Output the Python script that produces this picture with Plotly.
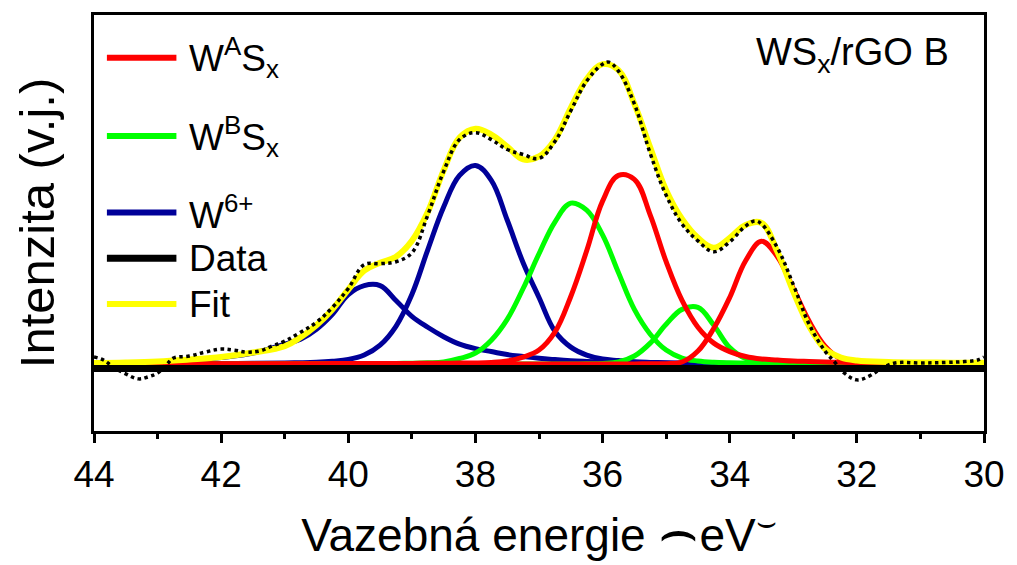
import plotly.graph_objects as go

# ---------------- data ----------------
# binding energy grid for fitted curves (eV)
e_grid = [44, 43.5, 43, 42.5, 42, 41.5, 41, 40.75, 40.5, 40.25, 40, 39.75, 39.5,
          39.25, 39, 38.75, 38.5, 38.25, 38, 37.75, 37.5, 37.25, 37, 36.75, 36.5,
          36.25, 36, 35.75, 35.5, 35.25, 35, 34.75, 34.5, 34.25, 34, 33.75, 33.5,
          33.25, 33, 32.75, 32.5, 32.25, 32, 31.5, 31, 30.5, 30]

# W^A S_x doublet (two peaks)
wa_peak1 = [0, 0, 0.1, 0.1, 0.2, 0.2, 0.3, 0.3, 0.3, 0.4, 0.4, 0.5, 0.5,
            0.6, 0.6, 0.7, 0.8, 0.9, 1, 1.5, 3, 7, 14, 32, 68,
            114, 164, 190, 186, 150, 103, 64, 37, 21, 12.5, 7.5, 5,
            4, 3, 2.5, 2, 1.7, 1.4, 1.1, 0.8, 0.6, 0.5]
wa_peak2 = [0, 0, 0, 0, 0, 0, 0, 0, 0, 0, 0, 0, 0,
            0, 0, 0, 0, 0, 0, 0, 0, 0, 0, 0, 0,
            0, 0, 0.1, 0.1, 0.2, 0.3, 2, 13, 36, 67, 104, 123.5,
            108, 76, 43, 18, 5, 2, 0.8, 0.4, 0.3, 0.2]

# W^B S_x doublet
wb_peak1 = [0, 0, 0, 0.1, 0.1, 0.1, 0.2, 0.2, 0.2, 0.3, 0.3, 0.4, 0.5,
            0.6, 0.8, 1.2, 2, 5.5, 11, 24, 45, 76, 111, 143, 162,
            155, 130, 92, 55, 30, 14, 6, 3, 1.7, 1.2, 1, 0.8,
            0.6, 0.5, 0.4, 0.3, 0.3, 0.2, 0.1, 0.1, 0, 0]
wb_peak2 = [0, 0, 0, 0, 0, 0, 0, 0, 0, 0, 0, 0, 0,
            0, 0, 0, 0, 0, 0, 0, 0, 0, 0, 0, 0,
            0.2, 0.5, 2, 8, 21, 40, 55, 57, 39, 16.5, 5.5, 2,
            1, 0.5, 0.3, 0.2, 0.1, 0.1, 0, 0, 0, 0]

# W6+ doublet
w6_peak1 = [0.2, 0.3, 0.3, 0.4, 0.5, 0.7, 1, 1.3, 1.8, 2.8, 4.5, 9, 19,
            38, 70, 115, 158, 190, 200, 185, 145, 102, 67, 33, 17,
            9, 5, 3.5, 2.2, 1.6, 1.2, 1, 0.8, 0.7, 0.6, 0.5, 0.4,
            0.4, 0.3, 0.3, 0.3, 0.2, 0.2, 0.2, 0.1, 0.1, 0.1]
w6_peak2 = [0.8, 1, 2, 3.3, 6.5, 11, 20, 25, 35, 50, 70, 79, 79,
            64, 48, 37, 27.5, 20, 15.5, 12.5, 9.5, 7.5, 5.7, 4.4, 3.3,
            2.5, 1.8, 1.3, 1, 0.8, 0.7, 0.6, 0.5, 0.5, 0.4, 0.4, 0.3,
            0.3, 0.3, 0.2, 0.2, 0.2, 0.2, 0.1, 0.1, 0.1, 0.1]

# envelope (fit)
fit_y = [1, 1.5, 2.5, 4.5, 7, 11.5, 18, 27, 39, 55, 75, 94, 102,
         108, 124, 153, 195, 228, 237, 231, 219, 206, 209, 226, 258,
         287, 302, 296, 262, 218, 175, 146, 127, 117, 127, 140, 142,
         113, 73, 38, 15, 6.5, 3.5, 2, 1.5, 1.3, 1.2]

# measured spectrum
data_e = [44.0, 43.85, 43.7, 43.5, 43.3, 43.15, 43.0, 42.85, 42.75, 42.5, 42.25,
          42.0, 41.8, 41.6, 41.4, 41.2, 41.0, 40.75, 40.5, 40.25, 40.0, 39.75,
          39.5, 39.25, 39.0, 38.75, 38.5, 38.25, 38.0, 37.75, 37.5, 37.25, 37.0,
          36.75, 36.5, 36.25, 36.0, 35.9, 35.75, 35.5, 35.25, 35.0, 34.75, 34.5,
          34.25, 34.0, 33.75, 33.6, 33.5, 33.25, 33.0, 32.75, 32.5, 32.35, 32.2,
          32.0, 31.8, 31.6, 31.4, 31.0, 30.6, 30.3, 30.1, 30.0]
data_y = [7, 4, -3, -10, -15, -13, -9, 0, 6, 8, 12,
          15, 14, 12, 13, 18, 23, 32, 42, 57, 76, 100,
          101, 103, 112, 150, 194, 226, 233, 226, 216, 211, 207,
          224, 255, 285, 302, 304, 295, 262, 212, 170, 141, 124,
          113, 123, 139, 144, 141, 117, 80, 40, 13, 2, -9,
          -16, -12, -4, 1, 1, 1.5, 2.5, 4, 7]

# background line
base_e = [44, 30]
base_y = [-4.5, -4.5]

x_ticks = [44, 42, 40, 38, 36, 34, 32, 30]

RED, GREEN, BLUE, YELLOW, BLACK = "#FF0000", "#00FF00", "#000099", "#FFFF00", "#000000"
SMOOTH = 1.1

fig = go.Figure()


def comp(y, color, name):
    fig.add_trace(go.Scatter(x=e_grid, y=y, mode="lines", name=name, showlegend=False,
                             line=dict(color=color, width=5, shape="spline", smoothing=SMOOTH)))


comp(w6_peak2, BLUE, "W6+")
comp(w6_peak1, BLUE, "W6+")
comp(wb_peak1, GREEN, "WBSx")
comp(wb_peak2, GREEN, "WBSx")
comp(wa_peak1, RED, "WASx")
comp(wa_peak2, RED, "WASx")

fig.add_trace(go.Scatter(x=e_grid, y=fit_y, mode="lines", name="Fit", showlegend=False,
                         line=dict(color=YELLOW, width=6, shape="spline", smoothing=SMOOTH)))
fig.add_trace(go.Scatter(x=data_e, y=data_y, mode="lines", name="Data", showlegend=False,
                         line=dict(color=BLACK, width=3.5, dash="dot", shape="spline", smoothing=SMOOTH)))
fig.add_trace(go.Scatter(x=base_e, y=base_y, mode="lines", name="Data", showlegend=False,
                         line=dict(color=BLACK, width=7)))

# ---------------- manual legend ----------------
legend_items = [
    ("W<sup>A</sup>S<sub>x</sub>", RED, 0.897, 6),
    ("W<sup>B</sup>S<sub>x</sub>", GREEN, 0.709, 6),
    ("W<sup>6+</sup>", BLUE, 0.525, 6),
    ("Data", BLACK, 0.415, 7),
    ("Fit", YELLOW, 0.305, 6),
]
shapes = []
annotations = []
for text, color, yy, w in legend_items:
    shapes.append(dict(type="line", xref="paper", yref="paper", x0=0.0145, x1=0.0926,
                       y0=yy, y1=yy, line=dict(color=color, width=w)))
    annotations.append(dict(text=text, xref="paper", yref="paper", x=0.104, y=yy,
                            xanchor="left", yanchor="middle", showarrow=False,
                            font=dict(size=37, color="black")))

annotations.append(dict(text="WS<sub>x</sub>/rGO B", xref="paper", yref="paper",
                        x=0.963, y=0.905, xanchor="right", yanchor="middle",
                        showarrow=False, font=dict(size=38, color="black")))

fig.update_layout(
    width=1017, height=565,
    margin=dict(l=94, r=27, t=12, b=134),
    paper_bgcolor="white", plot_bgcolor="white",
    font=dict(family="Liberation Sans, Arial, sans-serif", color="black"),
    showlegend=False,
    shapes=shapes,
    annotations=annotations,
    xaxis=dict(
        range=[44, 30], autorange=False,
        tickmode="array", tickvals=x_ticks, ticktext=[str(v) for v in x_ticks],
        ticks="outside", ticklen=9, tickwidth=2.5, tickcolor="black",
        minor=dict(ticks="outside", ticklen=5, tickwidth=2.5, tickcolor="black",
                   dtick=1, tick0=30, showgrid=False),
        showline=True, linewidth=2.5, linecolor="black", mirror=True,
        showgrid=False, zeroline=False,
        tickfont=dict(size=37),
        title=dict(text="Vazebná energie <span style=\"font-size:62px\">⌢</span>eV<sup>⌣</sup>",
                   font=dict(size=46), standoff=24),
    ),
    yaxis=dict(
        range=[-67.5, 351.5], autorange=False,
        showticklabels=False, ticks="",
        showline=True, linewidth=2.5, linecolor="black", mirror=True,
        showgrid=False, zeroline=False,
        title=dict(text="Intenzita (v.j.)", font=dict(size=49), standoff=22),
    ),
)

fig.write_html("out.html")
